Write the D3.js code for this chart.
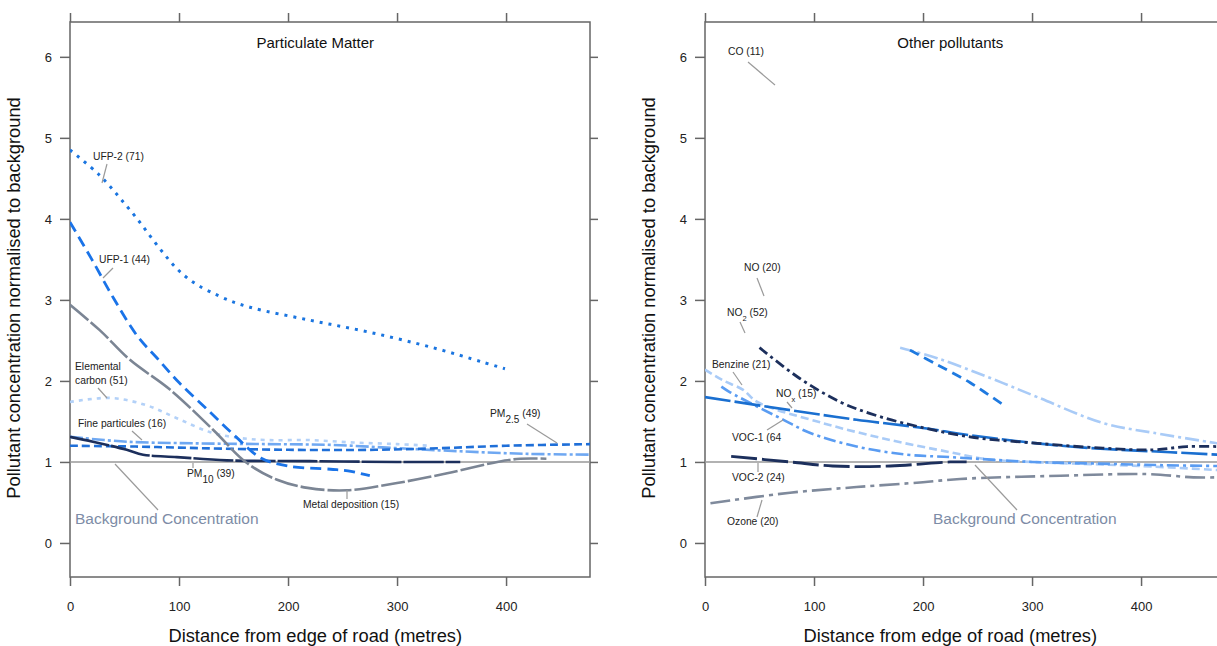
<!DOCTYPE html>
<html><head><meta charset="utf-8">
<script src="https://cdn.jsdelivr.net/npm/d3@7"></script>
<style>
body{margin:0;background:#fff;}
svg{font-family:"Liberation Sans",Arial,sans-serif;}
</style></head>
<body><svg id="c" width="1217" height="646"></svg>
<script>
// ---------- data (distance m, concentration normalised to background) ----------
const xTicks = [0,100,200,300,400];
const yTicks = [0,1,2,3,4,5,6];
const panelTitles = ["Particulate Matter","Other pollutants"];
const xTitle = "Distance from edge of road (metres)";
const yTitle = "Pollutant concentration normalised to background";

// Particulate matter
const ufp2   = [[0,4.85],[27,4.54],[55,4.11],[104,3.31],[138,3.04],[165,2.91],[220,2.75],[275,2.6],[333,2.41],[379,2.23],[399,2.15]];
const ufp1   = [[0,3.96],[20,3.5],[40,3.02],[62,2.55],[80,2.28],[100,1.98],[128,1.62],[153,1.3],[175,1.05],[200,0.95],[239,0.91],[255,0.89],[275,0.83]];
const metal  = [[0,2.94],[27,2.63],[55,2.26],[92,1.89],[131,1.4],[162,0.99],[190,0.78],[218,0.68],[254,0.65],[300,0.74],[346,0.86],[392,1.0],[413,1.04],[437,1.04]];
const elemC  = [[0,1.74],[37,1.79],[70,1.7],[98,1.54],[128,1.37],[153,1.3],[181,1.27],[220,1.27],[260,1.24],[300,1.22],[330,1.2]];
const fineP  = [[0,1.31],[52,1.25],[113,1.23],[180,1.22],[240,1.21],[300,1.17],[360,1.13],[420,1.1],[477,1.09]];
const pm25   = [[0,1.2],[60,1.19],[120,1.17],[200,1.15],[280,1.15],[340,1.17],[400,1.2],[477,1.22]];
const pm10   = [[0,1.31],[21,1.25],[52,1.15],[67,1.09],[98,1.06],[144,1.02],[220,1.01],[300,1.0],[358,1.0]];

// Other pollutants
const no2    = [[50,2.41],[87,2.03],[124,1.74],[151,1.6],[182,1.48],[243,1.31],[305,1.23],[365,1.17],[411,1.15],[442,1.19],[470,1.19]];
const benz   = [[0,2.14],[16,2.01],[35,1.89],[48,1.74],[108,1.48],[170,1.27],[225,1.12],[260,1.03],[300,1.0],[400,0.95],[470,0.9]];
const nox    = [[0,1.8],[78,1.64],[139,1.52],[200,1.42],[243,1.33],[335,1.19],[427,1.12],[470,1.09]];
const voc1   = [[15,1.93],[23,1.86],[72,1.52],[96,1.36],[139,1.19],[185,1.09],[225,1.06],[300,1.0],[360,0.98],[420,0.96],[470,0.95]];
const voc2   = [[24,1.07],[78,1.0],[117,0.95],[170,0.95],[225,1.0],[240,1.0]];
const ozone  = [[5,0.49],[78,0.62],[139,0.69],[200,0.75],[234,0.79],[326,0.83],[406,0.85],[448,0.81],[470,0.81]];
const noTop  = [[179,2.41],[213,2.28],[259,2.05],[305,1.8],[365,1.48],[411,1.36],[470,1.23]];
const coTop  = [[188,2.38],[213,2.2],[243,1.98],[274,1.7]];

// ---------- layout ----------
const svg = d3.select("#c");
const yS = d3.scaleLinear().domain([-0.42,6.43]).range([577,22]);
const panels = [
  {x0:70, x1:590, clip:"cl0"},
  {x0:705, x1:1225, clip:"cl1"}
];
panels.forEach(p => { p.x = d3.scaleLinear().domain([0,477]).range([p.x0,p.x1]); });

const defs = svg.append("defs");
panels.forEach(p=>{
  defs.append("clipPath").attr("id",p.clip).append("rect")
    .attr("x",p.x0).attr("y",22).attr("width",p.x1-p.x0).attr("height",555);
});

const axisCol = "#666";
panels.forEach((p,i)=>{
  const g = svg.append("g");
  g.append("rect").attr("x",p.x0).attr("y",22).attr("width",p.x1-p.x0).attr("height",555)
    .attr("fill","none").attr("stroke",axisCol).attr("stroke-width",1.5);
  const ya = d3.axisLeft(yS).tickValues(yTicks).tickSize(10).tickPadding(8).tickFormat(d3.format("d"));
  g.append("g").attr("transform",`translate(${p.x0},0)`).call(ya);
  const yr = d3.axisRight(yS).tickValues(yTicks).tickSize(8).tickFormat("");
  g.append("g").attr("transform",`translate(${p.x1},0)`).call(yr);
  const xb = d3.axisBottom(p.x).tickValues(xTicks).tickSize(9).tickPadding(16).tickFormat(d3.format("d"));
  g.append("g").attr("transform","translate(0,577)").call(xb);
  const xt = d3.axisTop(p.x).tickValues(xTicks).tickSize(9).tickFormat("");
  g.append("g").attr("transform","translate(0,22)").call(xt);
  g.selectAll(".domain").remove();
  g.selectAll(".tick line").attr("stroke",axisCol).attr("stroke-width",1.5);
  g.selectAll(".tick text").attr("font-size",13).attr("fill","#222").attr("font-family","Liberation Sans, Arial");
  g.append("text").attr("x",p.x(225)).attr("y",48).attr("text-anchor","middle")
    .attr("font-size",15).attr("fill","#111").text(panelTitles[i]);
  g.append("text").attr("x",p.x(225)).attr("y",642).attr("text-anchor","middle")
    .attr("font-size",18.3).attr("fill","#111").text(xTitle);
  g.append("text").attr("transform",`translate(${p.x0-50},298) rotate(-90)`).attr("text-anchor","middle")
    .attr("font-size",18.3).attr("fill","#111").text(yTitle);
  g.append("line").attr("x1",p.x0).attr("x2",p.x1).attr("y1",yS(1)).attr("y2",yS(1))
    .attr("stroke","#999").attr("stroke-width",1.5);
});

function drawLine(p, data, color, dash, w){
  const line = d3.line().x(d=>p.x(d[0])).y(d=>yS(d[1])).curve(d3.curveCatmullRom.alpha(0.5));
  svg.append("path").datum(data).attr("d",line).attr("fill","none")
    .attr("stroke",color).attr("stroke-width",w||2.6).attr("stroke-dasharray",dash)
    .attr("clip-path",`url(#${p.clip})`);
}
const L = panels[0], R = panels[1];
drawLine(L, elemC, "#b3d1f8", "4,5", 2.6);
drawLine(L, fineP, "#6fa8f2", "13,3,3,3", 2.6);
drawLine(L, pm25,  "#1f6fd8", "8,4", 2.6);
drawLine(L, pm10,  "#1c2f5c", "40,2", 2.6);
drawLine(L, metal, "#7b8594", "24,3", 2.6);
drawLine(L, ufp1,  "#1a73e8", "11,6", 2.8);
drawLine(L, ufp2,  "#1a75e0", "3,6", 3);
drawLine(R, ozone, "#7f8a9c", "20,5,4,5", 2.6);
drawLine(R, voc2,  "#1c2f5c", "26,5", 2.8);
drawLine(R, benz,  "#a9cbf7", "8,4", 2.6);
drawLine(R, voc1,  "#5a9cf2", "12,4,3,4", 2.6);
drawLine(R, nox,   "#1a6fd0", "26,4", 2.6);
drawLine(R, no2,   "#1c2f5c", "10,4,3,4", 2.8);
drawLine(R, noTop, "#a9cbf7", "14,4,3,4", 2.6);
drawLine(R, coTop, "#1f7ae0", "10,6", 2.8);

// ---------- annotations ----------
const lblCol = "#222", leadCol = "#9a9a9a";
function leader(x1,y1,x2,y2){
  svg.append("line").attr("x1",x1).attr("y1",y1).attr("x2",x2).attr("y2",y2)
    .attr("stroke",leadCol).attr("stroke-width",1.2);
}
function label(x,y,parts,size){
  const t = svg.append("text").attr("x",x).attr("y",y).attr("font-size",size||10.3).attr("fill",lblCol);
  parts.forEach(pt=>{
    if(typeof pt==="string") t.append("tspan").text(pt);
    else t.append("tspan").attr("baseline-shift","sub").attr("font-size",pt.s||8).text(pt.sub);
  });
  return t;
}
label(93,160,["UFP-2 (71)"]); leader(107,164,102,183);
label(99,263,["UFP-1 (44)"]); leader(113,268,103,278);
label(75,370,["Elemental"]); label(75,384,["carbon (51)"]); leader(98,388,107,398);
label(78,427,["Fine particules (16)"]); leader(132,431,142,440);
label(187,477,["PM",{sub:"10",s:10}," (39)"]); leader(193,463,193,468);
label(303,508,["Metal deposition (15)"]); leader(347,490,347,499);
label(490,417,["PM",{sub:"2.5",s:10}," (49)"]); leader(527,424,557,443);
svg.append("text").attr("x",75).attr("y",524).attr("font-size",15.5).attr("fill","#7d8ca6").text("Background Concentration");
leader(115,464,158,510);
label(728,55,["CO (11)"]); leader(748,62,775,85);
label(744,271,["NO (20)"]); leader(757,278,764,296);
label(727,316,["NO",{sub:"2",s:7.5}," (52)"]); leader(740,322,745,333);
label(712,368,["Benzine (21)"]); leader(733,372,742,385);
label(776,397,["NO",{sub:"x",s:7.5}," (15)"]); leader(787,402,792,408);
label(732,441,["VOC-1 (64"]); leader(767,430,783,420);
label(732,481,["VOC-2 (24)"]); leader(758,463,758,472);
label(727,525,["Ozone (20)"]); leader(757,517,762,500);
svg.append("text").attr("x",933).attr("y",524).attr("font-size",15.5).attr("fill","#7d8ca6").text("Background Concentration");
leader(975,465,1017,510);
</script></body></html>
